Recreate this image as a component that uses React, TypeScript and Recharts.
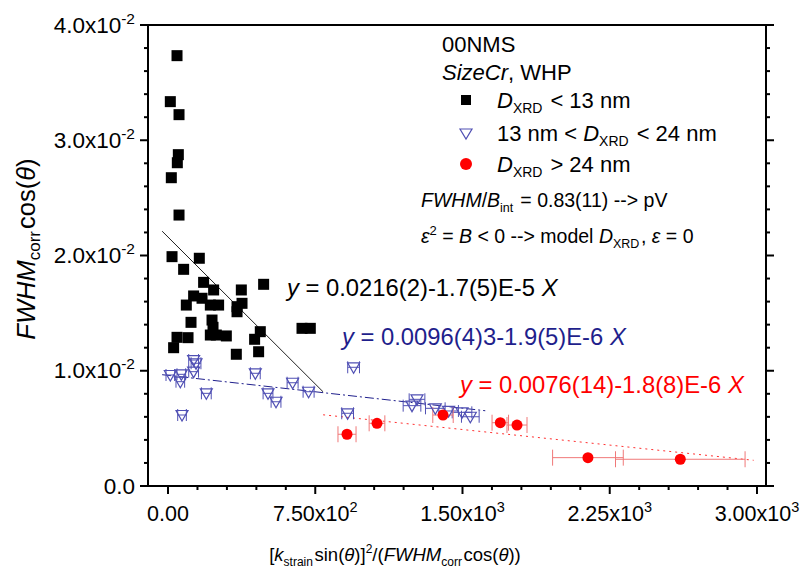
import React from 'react';
import { ScatterChart, Scatter, XAxis, YAxis, ErrorBar, ReferenceLine } from 'recharts';

const FONT = '"Liberation Sans", Arial, sans-serif';
const NAVY = '#1f1f8c';
const TRI = '#5050b4';
const RED = '#ff0000';

// D_XRD < 13 nm
const smallX = [45.8, 11.7, 56, 52.5, 47.4, 16.8, 56, 20.4, 159.4, 79.5, 181.3, 232.3, 487, 373.4, 130.4, 173.2, 93.2, 215.5, 257.7, 351.5, 376.9, 351.5, 117.1, 224.1, 229.2, 215.5, 246, 297, 470, 682.5, 724.8, 45.8, 101.9, 28.5, 441.1, 461.5, 347.9];
const smallY = [0.03734, 0.03335, 0.03222, 0.02875, 0.02805, 0.02675, 0.02351, 0.0199, 0.01976, 0.0188, 0.01767, 0.01701, 0.0175, 0.01701, 0.01649, 0.01629, 0.0157, 0.0157, 0.0157, 0.01556, 0.01585, 0.01512, 0.0142, 0.0144, 0.01377, 0.0131, 0.0131, 0.01302, 0.01339, 0.01368, 0.01368, 0.0129, 0.01287, 0.012, 0.01273, 0.01165, 0.01143];

// 13 nm < D_XRD < 24 nm
const midX = [11.7, 67.7, 62.6, 130.4, 142.6, 130.4, 195.1, 71.3, 444.7, 509.3, 550.1, 634.6, 716.1, 945.3, 914.8, 1242.8, 1268.3, 1361.5, 1429.2, 1497.5, 1539.8];
const midY = [0.00963, 0.00969, 0.00905, 0.01093, 0.01065, 0.00992, 0.00804, 0.00616, 0.00978, 0.00804, 0.00731, 0.00896, 0.00818, 0.0103, 0.00631, 0.00697, 0.00752, 0.00674, 0.00651, 0.00639, 0.00601];
const midErr = [22, 22, 22, 25, 25, 25, 25, 22, 25, 25, 25, 28, 28, 30, 30, 45, 40, 50, 50, 50, 45];

// D_XRD > 24 nm
const largeX = [911.7, 1064.5, 1400.7, 1692.6, 1777.6, 2139, 2609.4];
const largeY = [0.00449, 0.00544, 0.00616, 0.00549, 0.00529, 0.00246, 0.00232];
const largeErr = [46, 40, 52, 42, 51, 180, 330];

// linear fits y = a + b*x over [from, to]
const fitSmall = { a: 0.0216, b: -1.7e-5, from: -30, to: 790 };
const fitMid = { a: 0.0096, b: -1.9e-6, from: -30, to: 1616 };
const fitLarge = { a: 0.0076, b: -1.8e-6, from: 790, to: 2983 };

const xTicks = [0, 150, 300, 450, 600, 750, 900, 1050, 1200, 1350, 1500, 1650, 1800, 1950, 2100, 2250, 2400, 2550, 2700, 2850, 3000];
const xMajor = [0, 750, 1500, 2250, 3000];
const xMajorBase = ['0.00', '7.50x10', '1.50x10', '2.25x10', '3.00x10'];
const xMajorExp = ['', '2', '3', '3', '3'];

const yTicks = [0, 0.002, 0.004, 0.006, 0.008, 0.01, 0.012, 0.014, 0.016, 0.018, 0.02, 0.022, 0.024, 0.026, 0.028, 0.03, 0.032, 0.034, 0.036, 0.038, 0.04];
const yMajor = [0, 0.01, 0.02, 0.03, 0.04];
const yMajorBase = ['0.0', '1.0x10', '2.0x10', '3.0x10', '4.0x10'];
const yMajorExp = ['', '-2', '-2', '-2', '-2'];

const toPoints = (xs: number[], ys: number[], errs?: number[]) =>
  xs.map((x, i) => ({ x, y: ys[i], err: errs ? errs[i] : 0 }));

const segment = (f: { a: number; b: number; from: number; to: number }) => [
  { x: f.from, y: f.a + f.b * f.from },
  { x: f.to, y: f.a + f.b * f.to },
];

const majorIndex = (list: number[], v: number) => list.findIndex((m) => Math.abs(m - v) < 1e-9);

const BottomTick = ({ x, y, payload }: any) => {
  const i = majorIndex(xMajor, payload.value);
  return (
    <g>
      <line x1={x} x2={x} y1={y} y2={y + (i >= 0 ? 8 : 4)} stroke="#000" strokeWidth={2} />
      {i >= 0 && (
        <text x={x} y={y + 35} textAnchor="middle" fontFamily={FONT} fontSize={21.5} fill="#000">
          {xMajorBase[i]}
          {xMajorExp[i] && (
            <tspan dy={-9} fontSize={14.5}>
              {xMajorExp[i]}
            </tspan>
          )}
        </text>
      )}
    </g>
  );
};

const TopTick = ({ x, y, payload }: any) => {
  const i = majorIndex(xMajor, payload.value);
  return <line x1={x} x2={x} y1={y} y2={y - (i >= 0 ? 8 : 4)} stroke="#000" strokeWidth={2} />;
};

const LeftTick = ({ x, y, payload }: any) => {
  const i = majorIndex(yMajor, payload.value);
  return (
    <g>
      <line x1={x - (i >= 0 ? 8 : 4)} x2={x} y1={y} y2={y} stroke="#000" strokeWidth={2} />
      {i >= 0 && (
        <text x={x - 13} y={y + 7.5} textAnchor="end" fontFamily={FONT} fontSize={22.5} fill="#000">
          {yMajorBase[i]}
          {yMajorExp[i] && (
            <tspan dy={-9} fontSize={15.5}>
              {yMajorExp[i]}
            </tspan>
          )}
        </text>
      )}
    </g>
  );
};

const RightTick = ({ x, y, payload }: any) => {
  const i = majorIndex(yMajor, payload.value);
  return <line x1={x} x2={x + (i >= 0 ? 8 : 4)} y1={y} y2={y} stroke="#000" strokeWidth={2} />;
};

const Square = ({ cx, cy }: any) => <rect x={cx - 5.5} y={cy - 5.5} width={11} height={11} fill="#000" />;

const Triangle = ({ cx, cy }: any) => (
  <path
    d={`M${cx - 6},${cy - 4.5} L${cx + 6},${cy - 4.5} L${cx},${cy + 6} Z`}
    fill="none"
    stroke={TRI}
    strokeWidth={1.2}
  />
);

const Dot = ({ cx, cy }: any) => <circle cx={cx} cy={cy} r={5.5} fill={RED} />;

const Sub = ({ children, size = 14 }: any) => (
  <>
    <tspan dy={5} fontSize={size}>
      {children}
    </tspan>
    <tspan dy={-5}>{'\u200a'}</tspan>
  </>
);

function Annotations() {
  return (
    <svg
      width={804}
      height={572}
      style={{ position: 'absolute', left: 0, top: 0, pointerEvents: 'none' }}
      fontFamily={FONT}
    >
      {/* legend block */}
      <text x={442} y={52} fontSize={22}>00NMS</text>
      <text x={442} y={80} fontSize={22}>
        <tspan fontStyle="italic">SizeCr</tspan>, WHP
      </text>
      <rect x={461} y={95} width={10} height={10} fill="#000" />
      <text x={497} y={108} fontSize={22}>
        <tspan fontStyle="italic">D</tspan>
        <Sub>XRD</Sub>
        {' < 13 nm'}
      </text>
      <path d="M460,129 L472,129 L466,139 Z" fill="none" stroke={TRI} strokeWidth={1.2} />
      <text x={497} y={141} fontSize={22}>
        {'13 nm < '}
        <tspan fontStyle="italic">D</tspan>
        <Sub>XRD</Sub>
        {' < 24 nm'}
      </text>
      <circle cx={466} cy={164} r={6} fill={RED} />
      <text x={497} y={172} fontSize={22}>
        <tspan fontStyle="italic">D</tspan>
        <Sub>XRD</Sub>
        {' > 24 nm'}
      </text>
      <text x={421} y={207} fontSize={19.5}>
        <tspan fontStyle="italic">FWHM</tspan>/<tspan fontStyle="italic">B</tspan>
        <Sub size={12.5}>int</Sub>
        {' = 0.83(11) --> pV'}
      </text>
      <text x={421} y={243} fontSize={19.5}>
        <tspan fontStyle="italic">ε</tspan>
        <tspan dy={-8} fontSize={13}>2</tspan>
        <tspan dy={8}>{' = '}</tspan>
        <tspan fontStyle="italic">B</tspan>
        {' < 0 --> model '}
        <tspan fontStyle="italic">D</tspan>
        <Sub size={12.5}>XRD</Sub>
        {', '}
        <tspan fontStyle="italic">ε</tspan>
        {' = 0'}
      </text>

      {/* fit equations */}
      <text x={287} y={296} fontSize={23.8} fill="#000">
        <tspan fontStyle="italic">y</tspan>
        {' = 0.0216(2)-1.7(5)E-5 '}
        <tspan fontStyle="italic">X</tspan>
      </text>
      <text x={342} y={345} fontSize={23.8} fill={NAVY}>
        <tspan fontStyle="italic">y</tspan>
        {' = 0.0096(4)3-1.9(5)E-6 '}
        <tspan fontStyle="italic">X</tspan>
      </text>
      <text x={460} y={393} fontSize={23.8} fill={RED}>
        <tspan fontStyle="italic">y</tspan>
        {' = 0.0076(14)-1.8(8)E-6 '}
        <tspan fontStyle="italic">X</tspan>
      </text>

      {/* axis titles */}
      <text x={395} y={561} fontSize={18.5} textAnchor="middle">
        [<tspan fontStyle="italic">k</tspan>
        <Sub size={12}>strain</Sub>
        sin(<tspan fontStyle="italic">θ</tspan>)]
        <tspan dy={-8} fontSize={12}>2</tspan>
        <tspan dy={8}>/(</tspan>
        <tspan fontStyle="italic">FWHM</tspan>
        <Sub size={12}>corr</Sub>
        cos(<tspan fontStyle="italic">θ</tspan>))
      </text>
      <text x={35} y={249} fontSize={25.5} textAnchor="middle" transform="rotate(-90 35 249)">
        <tspan fontStyle="italic">FWHM</tspan>
        <Sub size={17}>corr</Sub>
        cos(<tspan fontStyle="italic">θ</tspan>)
      </text>
    </svg>
  );
}

export default function App() {
  return (
    <div style={{ position: 'absolute', left: 0, top: 0, width: 804, height: 572, background: '#fff' }}>
      <ScatterChart width={804} height={572} margin={{ top: 15, right: 28, bottom: 46, left: 88 }}>
        <XAxis
          type="number"
          dataKey="x"
          domain={[-102, 3046]}
          allowDataOverflow
          ticks={xTicks}
          interval={0}
          tick={<BottomTick />}
          tickLine={false}
          tickSize={0}
          tickMargin={0}
          height={40}
          axisLine={{ stroke: '#000', strokeWidth: 2 }}
        />
        <XAxis
          xAxisId="top"
          orientation="top"
          type="number"
          domain={[-102, 3046]}
          allowDataOverflow
          ticks={xTicks}
          interval={0}
          tick={<TopTick />}
          tickLine={false}
          tickSize={0}
          tickMargin={0}
          height={10}
          axisLine={{ stroke: '#000', strokeWidth: 2 }}
        />
        <YAxis
          type="number"
          dataKey="y"
          domain={[0, 0.04]}
          allowDataOverflow
          ticks={yTicks}
          interval={0}
          tick={<LeftTick />}
          tickLine={false}
          tickSize={0}
          tickMargin={0}
          width={60}
          axisLine={{ stroke: '#000', strokeWidth: 2 }}
        />
        <YAxis
          yAxisId="right"
          orientation="right"
          type="number"
          domain={[0, 0.04]}
          allowDataOverflow
          ticks={yTicks}
          interval={0}
          tick={<RightTick />}
          tickLine={false}
          tickSize={0}
          tickMargin={0}
          width={10}
          axisLine={{ stroke: '#000', strokeWidth: 2 }}
        />
        <ReferenceLine segment={segment(fitSmall)} stroke="#222" strokeWidth={1} />
        <ReferenceLine segment={segment(fitMid)} stroke={NAVY} strokeWidth={1} strokeDasharray="9 3 2 3" />
        <ReferenceLine segment={segment(fitLarge)} stroke="#ff3030" strokeWidth={1} strokeDasharray="2 4" />
        <Scatter data={toPoints(smallX, smallY)} shape={<Square />} isAnimationActive={false} />
        <Scatter data={toPoints(midX, midY, midErr)} shape={<Triangle />} isAnimationActive={false}>
          <ErrorBar dataKey="err" direction="x" width={6} stroke={TRI} strokeWidth={1} isAnimationActive={false} />
        </Scatter>
        <Scatter data={toPoints(largeX, largeY, largeErr)} shape={<Dot />} isAnimationActive={false}>
          <ErrorBar dataKey="err" direction="x" width={8} stroke="#f07878" strokeWidth={1} isAnimationActive={false} />
        </Scatter>
      </ScatterChart>
      <Annotations />
    </div>
  );
}
